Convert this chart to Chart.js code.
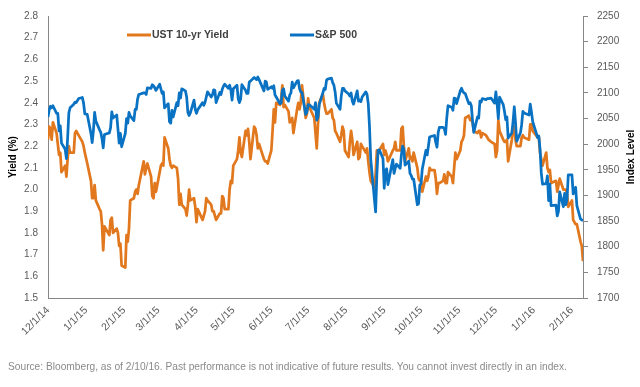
<!DOCTYPE html>
<html lang="en">
<head>
<meta charset="UTF-8">
<title>UST 10-yr Yield vs S&amp;P 500</title>
<style>
  body { margin: 0; background: #fff; }
  #wrap { position: relative; width: 640px; height: 387px; }
  #source {
    position: absolute; left: 8px; top: 361px;
    font: 10.2px "Liberation Sans", Arial, sans-serif;
    color: #8a8a8a; white-space: nowrap;
  }
</style>
</head>
<body>
<div id="wrap">
  <canvas id="yieldChart" width="640" height="387"></canvas>
  <div id="source">Source: Bloomberg, as of 2/10/16. Past performance is not indicative of future results. You cannot invest directly in an index.</div>
</div>

<script src="https://cdn.jsdelivr.net/npm/chart.js"></script>
<script>
// trading days, 12/1/14 - 2/10/16
const dates = [
  '12/1/14','12/2/14','12/3/14','12/4/14','12/5/14','12/8/14','12/9/14','12/10/14','12/11/14','12/12/14','12/15/14','12/16/14','12/17/14','12/18/14','12/19/14','12/22/14','12/23/14','12/24/14','12/26/14','12/29/14','12/30/14','12/31/14',
  '1/2/15','1/5/15','1/6/15','1/7/15','1/8/15','1/9/15','1/12/15','1/13/15','1/14/15','1/15/15','1/16/15','1/20/15','1/21/15','1/22/15','1/23/15','1/26/15','1/27/15','1/28/15','1/29/15','1/30/15',
  '2/2/15','2/3/15','2/4/15','2/5/15','2/6/15','2/9/15','2/10/15','2/11/15','2/12/15','2/13/15','2/17/15','2/18/15','2/19/15','2/20/15','2/23/15','2/24/15','2/25/15','2/26/15','2/27/15',
  '3/2/15','3/3/15','3/4/15','3/5/15','3/6/15','3/9/15','3/10/15','3/11/15','3/12/15','3/13/15','3/16/15','3/17/15','3/18/15','3/19/15','3/20/15','3/23/15','3/24/15','3/25/15','3/26/15','3/27/15','3/30/15','3/31/15',
  '4/1/15','4/2/15','4/6/15','4/7/15','4/8/15','4/9/15','4/10/15','4/13/15','4/14/15','4/15/15','4/16/15','4/17/15','4/20/15','4/21/15','4/22/15','4/23/15','4/24/15','4/27/15','4/28/15','4/29/15','4/30/15',
  '5/1/15','5/4/15','5/5/15','5/6/15','5/7/15','5/8/15','5/11/15','5/12/15','5/13/15','5/14/15','5/15/15','5/18/15','5/19/15','5/20/15','5/21/15','5/22/15','5/26/15','5/27/15','5/28/15','5/29/15',
  '6/1/15','6/2/15','6/3/15','6/4/15','6/5/15','6/8/15','6/9/15','6/10/15','6/11/15','6/12/15','6/15/15','6/16/15','6/17/15','6/18/15','6/19/15','6/22/15','6/23/15','6/24/15','6/25/15','6/26/15','6/29/15','6/30/15',
  '7/1/15','7/2/15','7/6/15','7/7/15','7/8/15','7/9/15','7/10/15','7/13/15','7/14/15','7/15/15','7/16/15','7/17/15','7/20/15','7/21/15','7/22/15','7/23/15','7/24/15','7/27/15','7/28/15','7/29/15','7/30/15','7/31/15',
  '8/3/15','8/4/15','8/5/15','8/6/15','8/7/15','8/10/15','8/11/15','8/12/15','8/13/15','8/14/15','8/17/15','8/18/15','8/19/15','8/20/15','8/21/15','8/24/15','8/25/15','8/26/15','8/27/15','8/28/15','8/31/15',
  '9/1/15','9/2/15','9/3/15','9/4/15','9/8/15','9/9/15','9/10/15','9/11/15','9/14/15','9/15/15','9/16/15','9/17/15','9/18/15','9/21/15','9/22/15','9/23/15','9/24/15','9/25/15','9/28/15','9/29/15','9/30/15',
  '10/1/15','10/2/15','10/5/15','10/6/15','10/7/15','10/8/15','10/9/15','10/12/15','10/13/15','10/14/15','10/15/15','10/16/15','10/19/15','10/20/15','10/21/15','10/22/15','10/23/15','10/26/15','10/27/15','10/28/15','10/29/15','10/30/15',
  '11/2/15','11/3/15','11/4/15','11/5/15','11/6/15','11/9/15','11/10/15','11/11/15','11/12/15','11/13/15','11/16/15','11/17/15','11/18/15','11/19/15','11/20/15','11/23/15','11/24/15','11/25/15','11/27/15','11/30/15',
  '12/1/15','12/2/15','12/3/15','12/4/15','12/7/15','12/8/15','12/9/15','12/10/15','12/11/15','12/14/15','12/15/15','12/16/15','12/17/15','12/18/15','12/21/15','12/22/15','12/23/15','12/24/15','12/28/15','12/29/15','12/30/15','12/31/15',
  '1/4/16','1/5/16','1/6/16','1/7/16','1/8/16','1/11/16','1/12/16','1/13/16','1/14/16','1/15/16','1/19/16','1/20/16','1/21/16','1/22/16','1/25/16','1/26/16','1/27/16','1/28/16','1/29/16',
  '2/1/16','2/2/16','2/3/16','2/4/16','2/5/16','2/8/16','2/9/16','2/10/16'
];

const ustYield = [
  2.23,2.29,2.28,2.23,2.31,2.26,2.21,2.16,2.17,2.08,2.11,2.06,2.14,2.20,2.17,2.17,2.26,2.27,2.25,2.22,2.20,2.17,
  2.12,2.04,1.96,1.96,2.02,1.95,1.91,1.90,1.84,1.72,1.83,1.79,1.86,1.87,1.80,1.82,1.80,1.74,1.75,1.65,
  1.64,1.79,1.76,1.82,1.95,1.96,1.99,2.00,1.98,2.02,2.13,2.07,2.10,2.12,2.06,1.97,1.96,2.03,1.99,
  2.08,2.11,2.12,2.11,2.24,2.19,2.14,2.11,2.10,2.11,2.10,2.05,1.93,1.98,1.93,1.91,1.88,1.93,2.00,1.95,1.96,1.92,
  1.85,1.91,1.86,1.88,1.90,1.96,1.95,1.93,1.90,1.90,1.88,1.86,1.89,1.89,1.97,1.96,1.91,1.91,2.00,2.04,2.03,
  2.11,2.14,2.18,2.24,2.17,2.15,2.27,2.25,2.28,2.22,2.14,2.29,2.28,2.25,2.19,2.21,2.14,2.13,2.13,2.12,
  2.18,2.27,2.37,2.31,2.40,2.39,2.42,2.48,2.38,2.39,2.36,2.31,2.32,2.33,2.26,2.37,2.40,2.37,2.40,2.48,2.33,2.35,
  2.42,2.38,2.33,2.26,2.19,2.30,2.40,2.44,2.40,2.37,2.35,2.35,2.37,2.33,2.32,2.27,2.26,2.22,2.25,2.29,2.27,2.18,
  2.15,2.22,2.27,2.23,2.16,2.22,2.14,2.15,2.21,2.20,2.17,2.19,2.13,2.08,2.04,2.01,2.07,2.18,2.18,2.18,2.21,
  2.16,2.18,2.16,2.13,2.18,2.19,2.22,2.18,2.18,2.28,2.29,2.20,2.13,2.19,2.14,2.15,2.13,2.17,2.10,2.05,2.04,
  2.04,1.99,2.06,2.04,2.06,2.10,2.09,2.09,2.05,1.98,2.03,2.03,2.04,2.07,2.03,2.03,2.08,2.06,2.03,2.10,2.17,2.14,
  2.18,2.22,2.23,2.25,2.33,2.34,2.32,2.32,2.31,2.27,2.26,2.27,2.27,2.24,2.26,2.25,2.24,2.23,2.22,2.21,
  2.15,2.18,2.32,2.27,2.23,2.22,2.22,2.23,2.13,2.23,2.28,2.29,2.23,2.20,2.20,2.24,2.25,2.24,2.23,2.30,2.30,2.27,
  2.24,2.24,2.17,2.14,2.11,2.17,2.10,2.08,2.09,2.03,2.04,1.99,2.02,2.05,2.00,2.00,2.00,1.98,1.92,
  1.95,1.86,1.85,1.84,1.84,1.76,1.74,1.67
];

const spx = [
  2053,2067,2074,2071,2075,2060,2060,2026,2036,2002,1990,1972,2012,2061,2071,2078,2082,2081,2089,2091,2080,2059,
  2058,2021,2003,2026,2062,2045,2028,2023,2011,1993,2019,2022,2032,2063,2051,2057,2030,2002,2021,1995,
  2021,2050,2041,2062,2055,2046,2068,2068,2088,2097,2100,2100,2097,2110,2109,2116,2114,2110,2105,
  2117,2108,2099,2102,2071,2079,2044,2041,2066,2053,2081,2075,2100,2090,2108,2104,2092,2062,2056,2061,2086,2068,
  2060,2067,2081,2076,2082,2092,2102,2092,2096,2106,2105,2081,2101,2097,2107,2113,2117,2109,2115,2106,2086,
  2108,2115,2089,2081,2088,2116,2105,2099,2099,2121,2123,2130,2128,2126,2131,2126,2104,2123,2121,2107,
  2112,2109,2114,2096,2092,2079,2080,2105,2108,2094,2084,2096,2100,2121,2110,2123,2124,2108,2102,2101,2058,2063,
  2077,2077,2068,2081,2047,2052,2077,2100,2109,2107,2125,2127,2129,2120,2115,2102,2080,2068,2094,2109,2109,2104,
  2098,2094,2100,2084,2078,2104,2084,2086,2083,2092,2102,2097,2079,2035,1971,1893,1868,1940,1988,1989,1972,
  1914,1949,1952,1921,1970,1943,1953,1961,1953,1979,1996,1990,1959,1967,1943,1939,1932,1932,1882,1884,1920,
  1923,1951,1988,1979,1996,2014,2015,2017,2004,1994,2023,2033,2033,2030,2019,2052,2075,2072,2066,2090,2089,2079,
  2104,2109,2103,2100,2099,2079,2081,2075,2045,2023,2053,2051,2084,2082,2089,2087,2089,2089,2090,2080,
  2102,2079,2050,2092,2077,2064,2048,2053,2012,2022,2044,2073,2042,2006,2022,2038,2064,2061,2057,2078,2063,2044,
  2013,2016,1990,1944,1922,1923,1938,1890,1922,1880,1881,1860,1869,1907,1878,1904,1882,1893,1940,
  1940,1903,1913,1916,1880,1854,1852,1852
];

const monthTicks = ['12/1/14','1/1/15','2/1/15','3/1/15','4/1/15','5/1/15','6/1/15','7/1/15','8/1/15','9/1/15','10/1/15','11/1/15','12/1/15','1/1/16','2/1/16'];
const yieldRange = [1.5, 2.8];
const indexRange = [1700, 2250];

// days since 12/1/14
function dayNum(s) {
  const [m, d, y] = s.split('/').map(Number);
  return (Date.UTC(2000 + y, m - 1, d) - Date.UTC(2014, 11, 1)) / 86400000;
}

const axisGray = '#868686';
const labelGray = '#595959';
const tickFont = { family: '"Liberation Sans", Arial, sans-serif', size: 10 };

// legend + axis titles, Excel style
const overlay = {
  id: 'overlay',
  afterDraw(chart) {
    const ctx = chart.ctx;
    const area = chart.chartArea;
    ctx.save();
    ctx.font = 'bold 10.5px "Liberation Sans", Arial, sans-serif';
    ctx.textBaseline = 'middle';
    ctx.lineWidth = 3;
    const ly = area.top + 19;
    const items = [
      { x: area.left + 79, color: chart.data.datasets[0].borderColor, text: chart.data.datasets[0].label },
      { x: area.left + 242, color: chart.data.datasets[1].borderColor, text: chart.data.datasets[1].label }
    ];
    items.forEach(it => {
      ctx.strokeStyle = it.color;
      ctx.beginPath();
      ctx.moveTo(it.x, ly);
      ctx.lineTo(it.x + 24, ly);
      ctx.stroke();
      ctx.fillStyle = '#404040';
      ctx.textAlign = 'left';
      ctx.fillText(it.text, it.x + 25, ly);
    });

    ctx.fillStyle = '#000';
    ctx.font = 'bold 10px "Liberation Sans", Arial, sans-serif';
    ctx.textAlign = 'center';
    const midY = (area.top + area.bottom) / 2;
    ctx.translate(13, midY);
    ctx.rotate(-Math.PI / 2);
    ctx.fillText('Yield (%)', 0, 0);
    ctx.rotate(Math.PI / 2);
    ctx.translate(-13, -midY);
    ctx.translate(631, midY);
    ctx.rotate(-Math.PI / 2);
    ctx.fillText('Index Level', 0, 0);
    ctx.restore();
  }
};

const ctx = document.getElementById('yieldChart').getContext('2d');
new Chart(ctx, {
  type: 'line',
  data: {
    datasets: [
      {
        label: 'UST 10-yr Yield',
        data: dates.map((d, i) => ({ x: dayNum(d), y: ustYield[i] })),
        borderColor: '#E2781E',
        borderWidth: 2.75,
        pointRadius: 0,
        tension: 0,
        borderJoinStyle: 'round',
        yAxisID: 'y',
        order: 2
      },
      {
        label: 'S&P 500',
        data: dates.map((d, i) => ({ x: dayNum(d), y: spx[i] })),
        borderColor: '#0A72C2',
        borderWidth: 2.75,
        pointRadius: 0,
        tension: 0,
        borderJoinStyle: 'round',
        yAxisID: 'y1',
        order: 1
      }
    ]
  },
  options: {
    responsive: false,
    animation: false,
    layout: { padding: { top: 10, left: 0, right: 0, bottom: 0 } },
    plugins: {
      legend: { display: false },
      tooltip: { enabled: false }
    },
    scales: {
      x: {
        type: 'linear',
        min: 0,
        max: dayNum(dates[dates.length - 1]),
        grid: { display: false, drawTicks: false },
        border: { display: true, color: axisGray },
        afterBuildTicks: (scale) => {
          scale.ticks = monthTicks.map(s => ({ value: dayNum(s) }));
        },
        afterFit: (scale) => { scale.height = 89; },
        ticks: {
          autoSkip: false,
          minRotation: 45,
          maxRotation: 45,
          padding: 6,
          color: labelGray,
          font: { family: '"Liberation Sans", Arial, sans-serif', size: 10.5 },
          callback: (v, i) => monthTicks[i]
        }
      },
      y: {
        position: 'left',
        min: yieldRange[0],
        max: yieldRange[1],
        grid: { display: false, drawTicks: false },
        border: { display: true, color: axisGray },
        afterFit: (scale) => { scale.width = 48; },
        ticks: {
          stepSize: 0.1,
          padding: 10,
          color: labelGray,
          font: tickFont,
          callback: v => v.toFixed(1)
        }
      },
      y1: {
        position: 'right',
        min: indexRange[0],
        max: indexRange[1],
        grid: { display: true, drawOnChartArea: false, drawTicks: true, tickLength: 5, color: axisGray },
        border: { display: true, color: axisGray },
        afterFit: (scale) => { scale.width = 57; },
        ticks: {
          stepSize: 50,
          padding: 9,
          color: labelGray,
          font: tickFont,
          callback: v => String(v)
        }
      }
    }
  },
  plugins: [overlay]
});
</script>
</body>
</html>
